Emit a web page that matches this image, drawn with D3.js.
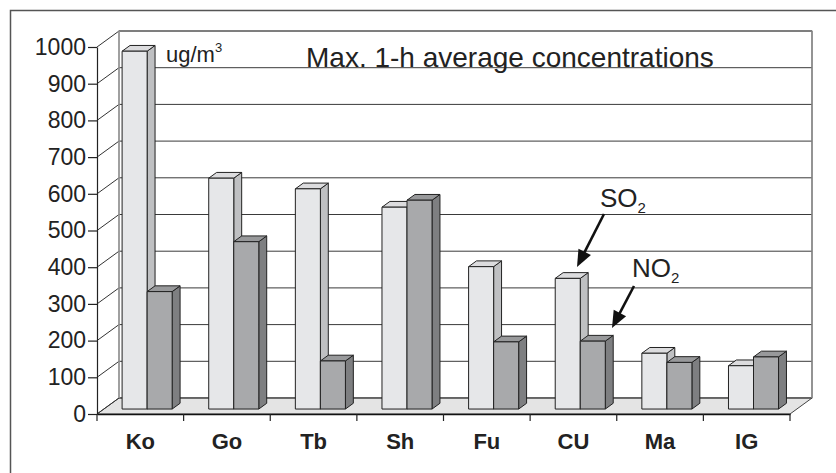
<!DOCTYPE html>
<html>
<head>
<meta charset="utf-8">
<script src="https://cdn.jsdelivr.net/npm/d3@7"></script>
<style>
  html, body { margin: 0; padding: 0; background: #fff; }
  svg { display: block; font-family: "Liberation Sans", Arial, sans-serif; }
</style>
</head>
<body>
<div id="chart"></div>
<script>
const categories = ['Ko', 'Go', 'Tb', 'Sh', 'Fu', 'CU', 'Ma', 'IG'];
const so2Values = [975, 629, 600, 550, 388, 356, 152, 118];
const no2Values = [320, 456, 131, 569, 183, 185, 127, 142];
const yTicks = [0, 100, 200, 300, 400, 500, 600, 700, 800, 900, 1000];

const width = 836;
const height = 473;

// front plane of the 3d box
const plot = { left: 97, right: 790, top: 47, bottom: 414 };
// offset of the back wall relative to the front plane
const depth = { dx: 22, dy: -16 };
// bars sit between these fractions of the depth
const barFront = 0.31;
const barBack = 0.67;

const svg = d3.select('#chart')
  .append('svg')
  .attr('width', width)
  .attr('height', height);

// outer frame (right/bottom run off the picture)
svg.append('rect')
  .attr('x', 10.5).attr('y', 10.5)
  .attr('width', 840).attr('height', 480)
  .attr('fill', 'none')
  .attr('stroke', '#555')
  .attr('stroke-width', 1.5);

const x = d3.scaleBand()
  .domain(categories)
  .range([plot.left, plot.right]);

const y = d3.scaleLinear()
  .domain([0, 1000])
  .range([plot.bottom, plot.top]);

const pt = (px, py) => px + ',' + py;

// back wall
svg.append('polygon')
  .attr('points', [
    pt(plot.left + depth.dx, y(1000) + depth.dy),
    pt(plot.right + depth.dx, y(1000) + depth.dy),
    pt(plot.right + depth.dx, y(0) + depth.dy),
    pt(plot.left + depth.dx, y(0) + depth.dy),
  ].join(' '))
  .attr('fill', '#fff')
  .attr('stroke', '#888')
  .attr('stroke-width', 1.2);

// floor
svg.append('polygon')
  .attr('points', [
    pt(plot.left, y(0)),
    pt(plot.right, y(0)),
    pt(plot.right + depth.dx, y(0) + depth.dy),
    pt(plot.left + depth.dx, y(0) + depth.dy),
  ].join(' '))
  .attr('fill', '#e4e4e4')
  .attr('stroke', '#444')
  .attr('stroke-width', 1);

// gridlines on back wall + side wall diagonals
const grid = svg.append('g');
yTicks.forEach((t) => {
  grid.append('line')
    .attr('x1', plot.left + depth.dx).attr('x2', plot.right + depth.dx)
    .attr('y1', y(t) + depth.dy).attr('y2', y(t) + depth.dy)
    .attr('stroke', t === 0 ? '#444' : '#3a3a3a')
    .attr('stroke-width', 1);
  grid.append('line')
    .attr('x1', plot.left).attr('x2', plot.left + depth.dx)
    .attr('y1', y(t)).attr('y2', y(t) + depth.dy)
    .attr('stroke', '#333')
    .attr('stroke-width', 1);
});
grid.append('line')
  .attr('x1', plot.left + depth.dx).attr('x2', plot.left + depth.dx)
  .attr('y1', y(1000) + depth.dy).attr('y2', y(0) + depth.dy)
  .attr('stroke', '#999').attr('stroke-width', 1.5);
grid.append('line')
  .attr('x1', plot.right + depth.dx).attr('x2', plot.right + depth.dx)
  .attr('y1', y(1000) + depth.dy).attr('y2', y(0) + depth.dy)
  .attr('stroke', '#888').attr('stroke-width', 1.5);

// bars
const barW = x.bandwidth() * 0.289;
const series = [
  { values: so2Values, front: '#e6e7e9', side: '#bfc0c2', top: '#dcdcde' },
  { values: no2Values, front: '#a8a9ab', side: '#7e7f81', top: '#98999b' },
];

const bars = svg.append('g')
  .attr('stroke', '#222')
  .attr('stroke-width', 1)
  .attr('stroke-linejoin', 'round');

const fx = barFront * depth.dx, fy = barFront * depth.dy;
const bx = barBack * depth.dx, by = barBack * depth.dy;

categories.forEach((c, i) => {
  const cx = x(c) + x.bandwidth() / 2;
  series.forEach((s, k) => {
    const x0 = cx - barW + k * barW + fx;
    const x1 = x0 + barW;
    const yb = y(0) + fy;
    const yt = y(s.values[i]) + fy;
    const ddx = bx - fx, ddy = by - fy;
    bars.append('polygon')
      .attr('points', [pt(x1, yt), pt(x1 + ddx, yt + ddy), pt(x1 + ddx, yb + ddy), pt(x1, yb)].join(' '))
      .attr('fill', s.side);
    bars.append('polygon')
      .attr('points', [pt(x0, yt), pt(x0 + ddx, yt + ddy), pt(x1 + ddx, yt + ddy), pt(x1, yt)].join(' '))
      .attr('fill', s.top);
    bars.append('rect')
      .attr('x', x0).attr('y', yt)
      .attr('width', barW).attr('height', yb - yt)
      .attr('fill', s.front);
  });
});

// y axis
const yAxis = svg.append('g')
  .attr('transform', `translate(${plot.left}, 0)`)
  .call(d3.axisLeft(y)
    .tickValues(yTicks)
    .tickFormat(d3.format('d'))
    .tickSize(9)
    .tickSizeOuter(0)
    .tickPadding(2));
yAxis.attr('font-size', null).attr('font-family', null);
yAxis.select('.domain').attr('stroke', '#222').attr('stroke-width', 1.2);
yAxis.selectAll('.tick line').attr('stroke', '#222').attr('stroke-width', 1.2);
yAxis.selectAll('.tick text')
  .style('font-size', '23px')
  .attr('fill', '#222');

// x axis
const xAxis = svg.append('g')
  .attr('transform', `translate(0, ${plot.bottom})`)
  .call(d3.axisBottom(x).tickSize(0).tickPadding(19));
xAxis.attr('font-size', null).attr('font-family', null);
xAxis.select('.domain').attr('stroke', '#111').attr('stroke-width', 1.5);
xAxis.selectAll('.tick text')
  .style('font-size', '22px')
  .style('font-weight', 'bold')
  .attr('fill', '#222');
categories.concat(['end']).forEach((c, i) => {
  const tx = i < categories.length ? x(c) : plot.right;
  xAxis.append('line')
    .attr('x1', tx).attr('x2', tx)
    .attr('y1', 0).attr('y2', 7)
    .attr('stroke', '#222').attr('stroke-width', 1.2);
});

// texts
svg.append('text')
  .attr('x', 306).attr('y', 67)
  .style('font-size', '28px')
  .attr('fill', '#222')
  .text('Max. 1-h average concentrations');

const unit = svg.append('text')
  .attr('x', 166).attr('y', 62)
  .style('font-size', '22px')
  .attr('fill', '#222');
unit.append('tspan').text('ug/m');
unit.append('tspan').style('font-size', '13px').attr('dy', -10).text('3');

const so2 = svg.append('text')
  .attr('x', 600).attr('y', 207)
  .style('font-size', '26px')
  .attr('fill', '#222');
so2.append('tspan').text('SO');
so2.append('tspan').style('font-size', '15px').attr('dy', 6).text('2');

const no2 = svg.append('text')
  .attr('x', 632).attr('y', 277)
  .style('font-size', '26px')
  .attr('fill', '#222');
no2.append('tspan').text('NO');
no2.append('tspan').style('font-size', '15px').attr('dy', 6).text('2');

// arrows, with heads drawn as triangles
const arrows = [
  { x1: 604, y1: 214, x2: 577, y2: 267 },
  { x1: 634, y1: 286, x2: 612, y2: 328 },
];
const headLen = 17;
const headHalf = 7;
const arrowG = svg.append('g').attr('fill', '#111').attr('stroke', '#111');
arrows.forEach((d) => {
  const len = Math.hypot(d.x2 - d.x1, d.y2 - d.y1);
  const ux = (d.x2 - d.x1) / len, uy = (d.y2 - d.y1) / len;
  const baseX = d.x2 - ux * headLen, baseY = d.y2 - uy * headLen;
  arrowG.append('line')
    .attr('x1', d.x1).attr('y1', d.y1)
    .attr('x2', baseX + ux * 2).attr('y2', baseY + uy * 2)
    .attr('stroke-width', 2.6);
  arrowG.append('polygon')
    .attr('stroke', 'none')
    .attr('points', [
      pt(d.x2, d.y2),
      pt(baseX - uy * headHalf, baseY + ux * headHalf),
      pt(baseX + uy * headHalf, baseY - ux * headHalf),
    ].join(' '));
});
</script>
</body>
</html>
